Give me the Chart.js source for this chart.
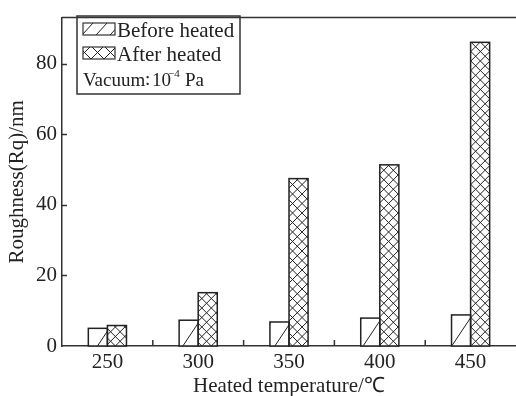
<!DOCTYPE html>
<html lang="en">
<head>
<meta charset="UTF-8">
<title>Roughness vs heated temperature</title>
<script src="https://cdn.jsdelivr.net/npm/chart.js"></script>
<style>
  html, body { margin: 0; padding: 0; background: #fff; }
</style>
</head>
<body>
<canvas id="roughChart" width="516" height="396"></canvas>
<script>
    const temperatures = ['250', '300', '350', '400', '450'];
    const beforeHeated = [5.0, 7.3, 6.8, 7.9, 8.8];
    const afterHeated = [5.8, 15.1, 47.4, 51.3, 86.0];
    const yTicks = [0, 20, 40, 60, 80];

    const FONT = '"Liberation Serif", "Times New Roman", serif';
    const INK = '#222';

    // hatch lines clipped to a rectangle; u measured from left, v from bottom
    function hatch(ctx, left, top, w, h, dirs, step, slope) {
        ctx.save();
        ctx.beginPath();
        ctx.rect(left, top, w, h);
        ctx.clip();
        ctx.strokeStyle = INK;
        ctx.lineWidth = 1;
        ctx.beginPath();
        const bottom = top + h;
        const span = w + h / slope + step;
        dirs.forEach(d => {
            const sgn = d === '/' ? 1 : -1;
            for (let c = -span; c <= span; c += step) {
                const u0 = c - span, u1 = c + span;
                ctx.moveTo(left + u0, bottom - sgn * slope * (u0 - c));
                ctx.lineTo(left + u1, bottom - sgn * slope * (u1 - c));
            }
        });
        ctx.stroke();
        ctx.restore();
    }

    const patterns = [
        { dirs: ['/'], step: 20, slope: 1.5 },
        { dirs: ['/', '\\'], step: 9.5, slope: 1 }
    ];

    const hatchPlugin = {
        id: 'hatchPlugin',
        afterDatasetsDraw(chart) {
            const ctx = chart.ctx;
            chart.data.datasets.forEach((ds, i) => {
                const p = patterns[i];
                chart.getDatasetMeta(i).data.forEach(bar => {
                    const { x, y, base, width } = bar.getProps(['x', 'y', 'base', 'width'], true);
                    const left = x - width / 2;
                    hatch(ctx, left, y, width, base - y, p.dirs, p.step, p.slope);
                    ctx.save();
                    ctx.strokeStyle = INK;
                    ctx.lineWidth = 1.5;
                    ctx.strokeRect(left, y, width, base - y);
                    ctx.restore();
                });
            });
        },
        afterDraw(chart) {
            const ctx = chart.ctx;
            const area = chart.chartArea;
            const xs = chart.scales.x, ys = chart.scales.y;
            ctx.save();
            ctx.strokeStyle = '#333';
            ctx.lineWidth = 1.5;
            // frame top line
            ctx.beginPath();
            ctx.moveTo(area.left, area.top);
            ctx.lineTo(chart.width, area.top);
            ctx.stroke();
            // inward tick marks
            ctx.beginPath();
            yTicks.slice(1).forEach(v => {
                const py = Math.round(ys.getPixelForValue(v)) + 0.5;
                ctx.moveTo(area.left, py);
                ctx.lineTo(area.left + 5, py);
            });
            for (let k = 1; k < temperatures.length; k++) {
                const px = (xs.getPixelForTick(k - 1) + xs.getPixelForTick(k)) / 2;
                ctx.moveTo(px, area.bottom);
                ctx.lineTo(px, area.bottom - 6);
            }
            ctx.stroke();

            // legend box
            ctx.strokeRect(77, 16, 163, 78);
            hatch(ctx, 83, 23, 32, 12, ['/'], 14, 1.1);
            ctx.lineWidth = 1.2;
            ctx.strokeRect(83, 23, 32, 12);
            hatch(ctx, 83, 47, 32, 12, ['/', '\\'], 13, 1.0);
            ctx.lineWidth = 1.2;
            ctx.strokeRect(83, 47, 32, 12);

            ctx.fillStyle = INK;
            ctx.textBaseline = 'middle';
            ctx.textAlign = 'left';
            ctx.font = '21px ' + FONT;
            ctx.fillText('Before heated', 117, 31);
            ctx.fillText('After heated', 117, 55);
            ctx.font = '19px ' + FONT;
            ctx.fillText('Vacuum', 83, 81);
            ctx.fillText(':', 145, 80);
            ctx.fillText('10', 152, 81);
            ctx.font = '11px ' + FONT;
            ctx.fillText('\u22124', 168, 74);
            ctx.font = '19px ' + FONT;
            ctx.fillText('Pa', 185, 81);
            ctx.restore();
        }
    };

    const ctx = document.getElementById('roughChart').getContext('2d');
    const roughChart = new Chart(ctx, {
        type: 'bar',
        data: {
            labels: temperatures,
            datasets: [
                {
                    label: 'Before heated',
                    data: beforeHeated,
                    backgroundColor: '#fff',
                    borderColor: INK,
                    borderWidth: 0,
                    categoryPercentage: 0.42,
                    barPercentage: 1
                },
                {
                    label: 'After heated',
                    data: afterHeated,
                    backgroundColor: '#fff',
                    borderColor: INK,
                    borderWidth: 0,
                    categoryPercentage: 0.42,
                    barPercentage: 1
                }
            ]
        },
        plugins: [hatchPlugin],
        options: {
            responsive: false,
            devicePixelRatio: 1,
            animation: false,
            layout: { padding: { top: 7, right: 0, left: 0, bottom: 0 } },
            plugins: {
                legend: { display: false },
                tooltip: { enabled: false }
            },
            scales: {
                x: {
                    grid: { display: false, drawTicks: false },
                    border: { display: true, color: '#333', width: 1.5 },
                    ticks: { color: INK, font: { family: FONT, size: 21 }, padding: 4 },
                    title: {
                        display: true,
                        text: 'Heated temperature/\u2103',
                        color: INK,
                        font: { family: FONT, size: 21 },
                        padding: { top: 0, bottom: -3 }
                    },
                    afterFit: s => { s.height = 50; }
                },
                y: {
                    min: 0,
                    max: 93,
                    afterBuildTicks: s => { s.ticks = yTicks.map(v => ({ value: v })); },
                    grid: { display: false, drawTicks: false },
                    border: { display: true, color: '#333', width: 1.5 },
                    ticks: { color: INK, font: { family: FONT, size: 21 }, padding: 5 },
                    title: {
                        display: true,
                        text: 'Roughness(Rq)/nm',
                        color: INK,
                        font: { family: FONT, size: 21 },
                        padding: { top: 5, bottom: 0 }
                    },
                    afterFit: s => { s.width = 62; }
                }
            }
        }
    });
</script>
</body>
</html>
